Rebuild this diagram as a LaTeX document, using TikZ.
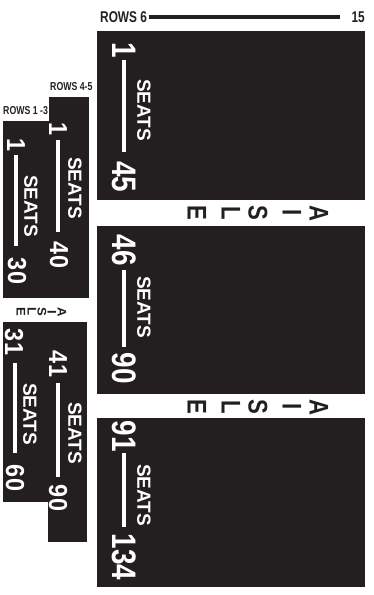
\documentclass[tikz,border=0pt]{standalone}
\usepackage{fontspec}
\setmainfont{Liberation Sans}
\newfontfamily\bigcond[FakeStretch=0.82]{Liberation Sans}
\newfontfamily\smallcond[FakeStretch=0.9]{Liberation Sans}
\newfontfamily\labcond[FakeStretch=0.76]{Liberation Sans}
\newfontfamily\aislecond[FakeStretch=0.82]{Liberation Sans}
\newfontfamily\aislewide[FakeStretch=1.05]{Liberation Sans}
\definecolor{blk}{HTML}{231F20}
\begin{document}
\begin{tikzpicture}[x=1pt,y=-1pt,
  blockfill/.style={fill=blk,draw=none},
  bignum/.style={text=white,rotate=-90,inner sep=0pt,font=\bigcond\bfseries\fontsize{34}{34}\selectfont},
  smallnum/.style={text=white,rotate=-90,inner sep=0pt,font=\smallcond\bfseries\fontsize{26}{26}\selectfont},
  seatstxt/.style={text=white,rotate=-90,inner sep=0pt,font=\bfseries\fontsize{19}{19}\selectfont},
  seatline/.style={draw=white,line width=4.5pt},
  aislebig/.style={text=blk,rotate=-90,inner sep=0pt,font=\aislecond\bfseries\fontsize{27}{27}\selectfont},
  aislesmall/.style={text=blk,rotate=-90,inner sep=0pt,font=\aislewide\bfseries\fontsize{12.5}{12.5}\selectfont},
  toplabel/.style={text=blk,inner sep=0pt,font=\labcond\bfseries\fontsize{15.6}{15.6}\selectfont},
  rowlabel/.style={text=blk,inner sep=0pt,font=\labcond\bfseries\fontsize{11.5}{11.5}\selectfont},
  rowline/.style={draw=blk,line width=3.5pt}
]
\useasboundingbox (0,0) rectangle (373,595);

% top label
\node[toplabel,anchor=west] (rows6) at (100,17) {ROWS 6};
\node[toplabel,anchor=east] (rows15) at (365,17) {15};
\draw[rowline] (rows6.east) ++(1.5,0) coordinate (tl1) -- (340,17) coordinate (tl2);

% big blocks
\fill[blockfill] (97,31) rectangle (365,200);
\fill[blockfill] (97,226) rectangle (365,394);
\fill[blockfill] (97,418) rectangle (365,587);

% block 1
\node[bignum] (a1) at (124,50) {1};
\node[seatstxt] (as) at (144,110) {SEATS};
\node[bignum] (a45) at (124,177) {45};
\draw[seatline] (124,60) -- (124,152);
% block 2
\node[bignum] (b46) at (124,250) {46};
\node[seatstxt] (bs) at (144,307) {SEATS};
\node[bignum] (b90) at (124,368) {90};
\draw[seatline] (124,270) -- (124,347);
% block 3
\node[bignum] (c91) at (124,436) {91};
\node[seatstxt] (cs) at (144,495) {SEATS};
\node[bignum] (c134) at (124,557) {134};
\draw[seatline] (124,453) -- (124,527);

% big aisles
\foreach \l/\xx [count=\i] in {A/319,I/292,S/258,L/231,E/197}{
  \node[aislebig] (aisleA\i) at (\xx,213) {\l};
  \node[aislebig] (aisleB\i) at (\xx,407) {\l};
}

% left upper blocks
\fill[blockfill] (3,121) rectangle (49.5,298);
\fill[blockfill] (49,97) rectangle (89,298);
\node[rowlabel,anchor=west] (rows45) at (50,87) {ROWS 4-5};
\node[rowlabel,anchor=west] (rows13) at (3,111) {ROWS 1 -3};

% rows 4-5
\node[smallnum] (d1) at (58,129) {1};
\node[seatstxt] (ds) at (75,188) {SEATS};
\node[smallnum] (d40) at (59,255) {40};
\draw[seatline] (58,140) -- (58,232);
% rows 1-3
\node[smallnum] (e1) at (16,145) {1};
\node[seatstxt] (es) at (31,206) {SEATS};
\node[smallnum] (e30) at (17,271) {30};
\draw[seatline] (16,155) -- (16,246);

% small aisle
\foreach \l/\xx [count=\i] in {A/62,I/52,S/42,L/32,E/21}{
  \node[aislesmall] (aisleC\i) at (\xx,312) {\l};
}

% left lower blocks
\fill[blockfill] (3,322) rectangle (48.5,502);
\fill[blockfill] (48,322) rectangle (87,542);
% 31-60
\node[smallnum] (f31) at (14,342) {31};
\node[seatstxt] (fs) at (30,414) {SEATS};
\node[smallnum] (f60) at (15,478) {60};
\draw[seatline] (15,363) -- (15,453);
% 41-90
\node[smallnum] (g41) at (58,364) {41};
\node[seatstxt] (gs) at (75,433) {SEATS};
\node[smallnum] (g90) at (58,498) {90};
\draw[seatline] (58,383) -- (58,477);
\end{tikzpicture}
\end{document}
